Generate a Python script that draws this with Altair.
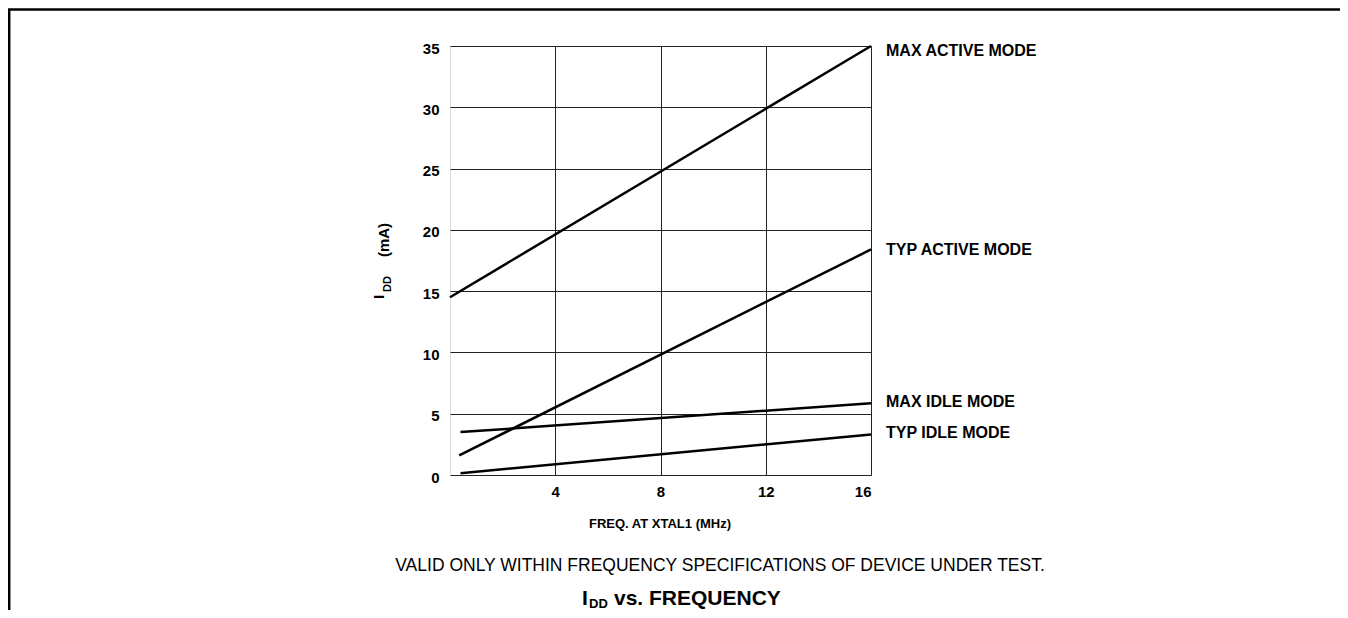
import altair as alt
import pandas as pd

# ---- data ----
series = ["MAX ACTIVE MODE", "TYP ACTIVE MODE", "MAX IDLE MODE", "TYP IDLE MODE"]
freq_start = [0.0, 0.35, 0.4, 0.4]
freq_end = [16.0, 16.0, 16.0, 16.0]
idd_start = [14.5, 1.6, 3.5, 0.15]
idd_end = [35.0, 18.4, 5.85, 3.3]
label_idd = [34.6, 18.35, 5.95, 3.45]

x_ticks = [4, 8, 12, 16]
y_ticks = [0, 5, 10, 15, 20, 25, 30, 35]

FONT = "Liberation Sans"

rows = []
for s, f0, f1, i0, i1 in zip(series, freq_start, freq_end, idd_start, idd_end):
    rows.append({"series": s, "freq": f0, "idd": i0})
    rows.append({"series": s, "freq": f1, "idd": i1})
lines_df = pd.DataFrame(rows)
labels_df = pd.DataFrame({"series": series, "freq": freq_end, "idd": label_idd})

xs = alt.Scale(domain=[0, 16], nice=False, zero=False)
ys = alt.Scale(domain=[0, 35], nice=False)

x_axis = alt.Axis(values=x_ticks, title=None, grid=True, ticks=False, tickSize=0,
                  domain=False, labelFont=FONT, labelFontSize=15, labelFontWeight="bold",
                  labelColor="black", labelPadding=9, gridColor="#222", gridWidth=1,
                  gridOpacity=1)
y_axis = alt.Axis(values=y_ticks, title=None, grid=True, ticks=False, tickSize=0,
                  domain=False, labelFont=FONT, labelFontSize=15, labelFontWeight="bold",
                  labelColor="black", labelPadding=11, labelOffset=2, gridColor="#222",
                  gridWidth=1, gridOpacity=1)

lines = alt.Chart(lines_df).mark_line(color="black", strokeWidth=2.5).encode(
    x=alt.X("freq:Q", scale=xs, axis=x_axis),
    y=alt.Y("idd:Q", scale=ys, axis=y_axis),
    detail="series:N",
)

line_labels = alt.Chart(labels_df).mark_text(
    align="left", baseline="middle", dx=15, font=FONT, fontSize=16,
    fontWeight="bold", color="black"
).encode(
    x=alt.X("freq:Q", scale=xs),
    y=alt.Y("idd:Q", scale=ys),
    text="series:N",
)

one = pd.DataFrame({"k": [0]})


def txt(text, x, y, size, bold=True, align="center", angle=0):
    kw = dict(align=align, baseline="middle", font=FONT, fontSize=size,
              fontWeight="bold" if bold else "normal", color="black", text=text)
    if angle:
        kw["angle"] = angle
    return alt.Chart(one).mark_text(**kw).encode(x=alt.value(x), y=alt.value(y))


annotations = [
    # x-axis title
    txt("FREQ. AT XTAL1 (MHz)", 210, 478, 13),
    # y-axis title with subscript
    txt("I", -71, 251, 15, angle=270),
    txt("DD", -62, 238, 11, angle=270),
    txt("(mA)", -66, 194, 15, angle=270),
    # footnote
    txt("VALID ONLY WITHIN FREQUENCY SPECIFICATIONS OF DEVICE UNDER TEST.", 270, 520, 17.5,
        bold=False),
    # bottom title
    txt("I", 132, 553, 21, align="left"),
    txt("DD", 139, 558, 13, align="left"),
    txt("vs. FREQUENCY", 164, 553, 21, align="left"),
]

frame_left = alt.Chart(one).mark_rule(color="black", strokeWidth=2.5).encode(
    x=alt.value(-440.8), y=alt.value(-36.5), y2=alt.value(600)
)
frame_top = alt.Chart(one).mark_rule(color="black", strokeWidth=2.5).encode(
    x=alt.value(-442), x2=alt.value(900), y=alt.value(-36.5)
)

chart = alt.layer(lines, line_labels, frame_left, frame_top, *annotations).properties(
    width=421,
    height=429,
    padding={"left": 442, "top": 38, "right": 469, "bottom": 135},
    autosize=alt.AutoSizeParams(type="none"),
).configure_view(stroke="#222", strokeWidth=1).configure(background="white")

chart.save("out.html", embed_options={"renderer": "svg", "actions": False})
